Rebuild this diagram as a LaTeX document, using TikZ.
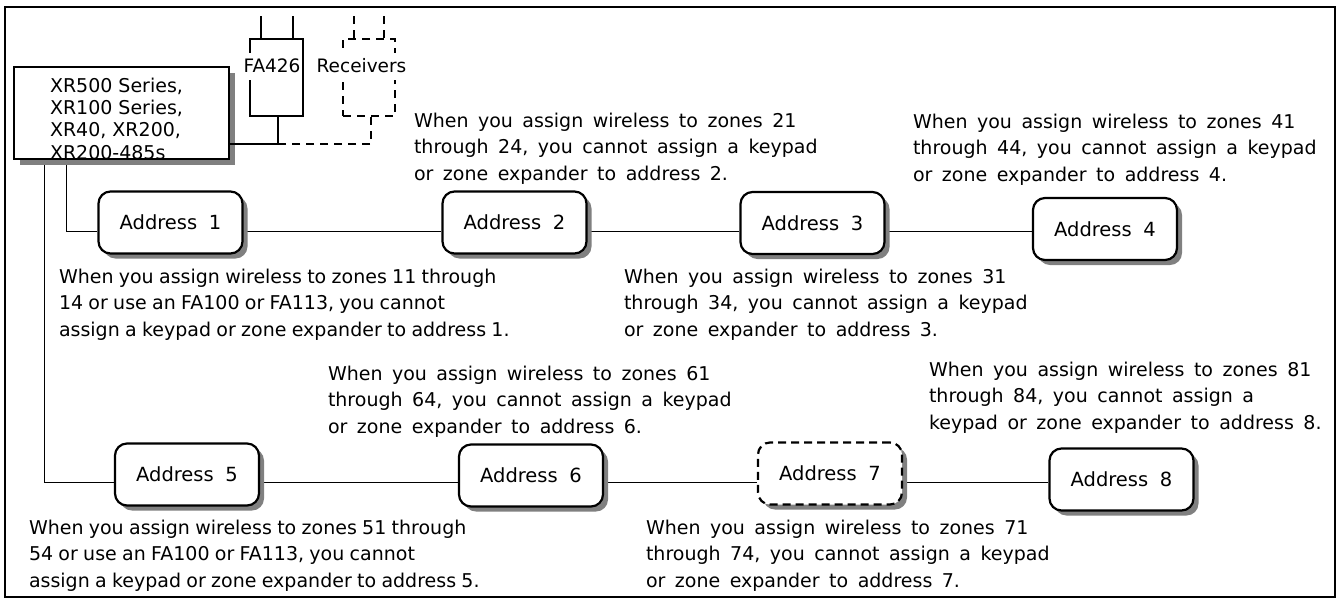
\documentclass[tikz,border=0pt]{standalone}
\usepackage{fontspec}
\setmainfont{DejaVu Sans}
\usetikzlibrary{shadows,backgrounds}
\newcommand{\mynotefont}{\fontsize{19}{26.5}\selectfont\spaceskip=0.5em\relax}
\newcommand{\mywidefont}{\fontsize{19}{26.5}\selectfont\spaceskip=0.28em\relax}
\begin{document}
\begin{tikzpicture}[x=1pt,y=-1pt,
  line width=2pt,
  shade/.style={drop shadow={shadow xshift=5pt, shadow yshift=-5pt, fill=black!50, opacity=1}},
  addr/.style={draw, line width=2.2pt, rounded corners=12pt, fill=white,
    minimum width=144pt, minimum height=62pt, inner sep=0pt,
    font=\fontsize{19.5}{22}\selectfont, shade},
  ctrlbox/.style={draw, line width=2.2pt, fill=white, minimum width=215pt, minimum height=92pt,
    drop shadow={shadow xshift=6pt, shadow yshift=-6pt, fill=black!50, opacity=1}},
  ctrltext/.style={anchor=north west, inner sep=0pt, align=left, font=\fontsize{19}{22.2}\selectfont},
  note/.style={anchor=north west, inner sep=0pt, align=left, font=\mynotefont},
  longnote/.style={note, font=\mywidefont},
  lbl/.style={fill=white, inner xsep=2pt, minimum height=27pt, font=\fontsize{18.5}{22}\selectfont},
  dsh/.style={dash pattern=on 8pt off 6pt},
  adsh/.style={dash pattern=on 8pt off 5pt},
]
\useasboundingbox (0,0) rectangle (1338,598);
\draw[line width=2pt] (5,7) rectangle (1335,597);

% controller
\node[ctrlbox] (ctrl) at (121.5,113) {};
\node[ctrltext] (ctrltxt) at (49,77) {XR500 Series,\\XR100 Series,\\XR40, XR200,\\XR200-485s};

% FA426 and receivers
\node[draw, line width=2pt, minimum width=53pt, minimum height=77pt, inner sep=0pt] (fa) at (276.5,77.5) {};
\node[draw, line width=2pt, dsh, minimum width=52pt, minimum height=77pt, inner sep=0pt] (rc) at (369,77.5) {};
\node[lbl] (falbl) at (272,66) {FA426};
\node[lbl] (rclbl) at (361.5,66) {Receivers};
\draw ([xshift=-16pt]fa.north) -- ++(0,-22);
\draw ([xshift=16pt]fa.north) -- ++(0,-22);
\draw[dsh] ([xshift=-15pt]rc.north) -- ++(0,-22);
\draw[dsh] ([xshift=15pt]rc.north) -- ++(0,-22);
\coordinate (j) at (278,144);
\draw[dsh] ([xshift=2pt]rc.south) |- (j);
\draw ([xshift=1.5pt]fa.south) -- (j) -- (ctrl.east |- j);

% address boxes
\node[addr] (a1) at (170.5,222.5) {Address\hspace{0.6em}1};
\node[addr] (a2) at (514.5,222.5) {Address\hspace{0.6em}2};
\node[addr] (a3) at (812.5,223) {Address\hspace{0.6em}3};
\node[addr] (a4) at (1105,229) {Address\hspace{0.6em}4};
\node[addr] (a5) at (187,474.5) {Address\hspace{0.6em}5};
\node[addr] (a6) at (531,475.5) {Address\hspace{0.6em}6};
\node[addr, adsh] (a7) at (830,473.5) {Address\hspace{0.6em}7};
\node[addr] (a8) at (1121.5,479.5) {Address\hspace{0.6em}8};

\coordinate (bus1) at (0,231.5);
\coordinate (bus2) at (0,482);
\begin{scope}[on background layer]
\draw ([xshift=53pt]ctrl.south west) |- (a1.west |- bus1);
\draw ([xshift=31pt]ctrl.south west) |- (a5.west |- bus2);
\draw (a1.east |- bus1) -- (a2.west |- bus1);
\draw (a2.east |- bus1) -- (a3.west |- bus1);
\draw (a3.east |- bus1) -- (a4.west |- bus1);
\draw (a5.east |- bus2) -- (a6.west |- bus2);
\draw (a6.east |- bus2) -- (a7.west |- bus2);
\draw (a7.east |- bus2) -- (a8.west |- bus2);
\end{scope}

% notes
\node[longnote] (t1) at (58,268) {When you assign wireless to zones 11 through\\14 or use an FA100 or FA113, you cannot\\assign a keypad or zone expander to address 1.};
\node[note] (t2) at (413,111.6) {When you assign wireless to zones 21\\through 24, you cannot assign a keypad\\or zone expander to address 2.};
\node[note] (t3) at (623,267.6) {When you assign wireless to zones 31\\through 34, you cannot assign a keypad\\or zone expander to address 3.};
\node[note] (t4) at (912,112.6) {When you assign wireless to zones 41\\through 44, you cannot assign a keypad\\or zone expander to address 4.};
\node[longnote] (t5) at (28,518.6) {When you assign wireless to zones 51 through\\54 or use an FA100 or FA113, you cannot\\assign a keypad or zone expander to address 5.};
\node[note] (t6) at (327,364.6) {When you assign wireless to zones 61\\through 64, you cannot assign a keypad\\or zone expander to address 6.};
\node[note] (t7) at (645,518.6) {When you assign wireless to zones 71\\through 74, you cannot assign a keypad\\or zone expander to address 7.};
\node[note] (t8) at (928,361) {When you assign wireless to zones 81\\through 84, you cannot assign a\\keypad or zone expander to address 8.};
\end{tikzpicture}
\end{document}
